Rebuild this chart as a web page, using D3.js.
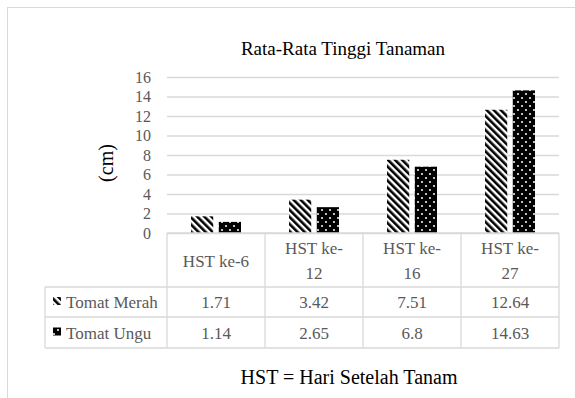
<!DOCTYPE html>
<html>
<head>
<meta charset="utf-8">
<script src="https://cdn.jsdelivr.net/npm/d3@7"></script>
<style>
  body { margin: 0; background: #fff; }
</style>
</head>
<body>
<script>
var categories = ["HST ke-6", "HST ke-12", "HST ke-16", "HST ke-27"];
var seriesNames = ["Tomat Merah", "Tomat Ungu"];
var merah = [1.71, 3.42, 7.51, 12.64];
var ungu = [1.14, 2.65, 6.8, 14.63];
var yTicks = [0, 2, 4, 6, 8, 10, 12, 14, 16];
var valueLabels = [["1.71", "3.42", "7.51", "12.64"], ["1.14", "2.65", "6.8", "14.63"]];

function init() {
    var w = 575;
    var h = 398;
    var grey = "#595959";
    var lineCol = "#d9d9d9";
    var serif = "Liberation Serif";

    var svg = d3.select("body")
                .append("svg")
                .attr("width", w)
                .attr("height", h);

    // patterns
    var defs = svg.append("defs");
    var stripes = defs.append("pattern")
        .attr("id", "stripes")
        .attr("patternUnits", "userSpaceOnUse")
        .attr("width", 5)
        .attr("height", 5)
        .attr("patternTransform", "rotate(-45)");
    stripes.append("rect").attr("width", 5).attr("height", 5).attr("fill", "#fff");
    stripes.append("rect").attr("width", 2.6).attr("height", 5).attr("fill", "#000");

    var dots = defs.append("pattern")
        .attr("id", "dots")
        .attr("patternUnits", "userSpaceOnUse")
        .attr("width", 8)
        .attr("height", 8);
    dots.append("rect").attr("width", 8).attr("height", 8).attr("fill", "#000");
    dots.append("circle").attr("cx", 2).attr("cy", 2).attr("r", 1).attr("fill", "#fff");
    dots.append("circle").attr("cx", 6).attr("cy", 6).attr("r", 1).attr("fill", "#fff");

    var fills = ["url(#stripes)", "url(#dots)"];
    var values = [merah, ungu];

    // chart border
    svg.append("rect")
        .attr("x", 7.5).attr("y", 7.5)
        .attr("width", w + 10).attr("height", h + 10)
        .attr("fill", "none")
        .attr("stroke", lineCol);

    // scales
    var xScale = d3.scaleBand()
        .domain(categories)
        .range([167, 559]);

    var xSub = d3.scaleBand()
        .domain(seriesNames)
        .range([24, 74])
        .paddingInner(0.2);

    var yScale = d3.scaleLinear()
        .domain([0, 16])
        .range([233, 77]);

    // title
    svg.append("text")
        .attr("x", 343)
        .attr("y", 55)
        .attr("text-anchor", "middle")
        .attr("font-family", serif)
        .attr("font-size", 19)
        .attr("fill", "#000")
        .text("Rata-Rata Tinggi Tanaman");

    // y axis with gridlines
    var yAxis = d3.axisLeft(yScale)
        .tickValues(yTicks)
        .tickSize(-(559 - 167))
        .tickPadding(16)
        .tickFormat(d3.format("d"));

    var gy = svg.append("g")
        .attr("transform", "translate(167,0)")
        .call(yAxis);
    gy.select(".domain").remove();
    gy.selectAll("line").attr("stroke", lineCol).attr("stroke-width", 1.3);
    gy.selectAll("text")
        .attr("fill", grey)
        .attr("font-family", serif)
        .attr("font-size", 16);

    svg.append("text")
        .attr("transform", "translate(113,163) rotate(-90)")
        .attr("text-anchor", "middle")
        .attr("font-family", serif)
        .attr("font-size", 20)
        .attr("fill", "#000")
        .text("(cm)");

    // bars
    var groups = svg.selectAll("g.series")
        .data(seriesNames)
        .enter()
        .append("g")
        .attr("class", "series")
        .attr("fill", function (d, i) { return fills[i]; });

    groups.selectAll("rect")
        .data(function (d, i) {
            return values[i].map(function (v, j) { return { s: d, c: categories[j], v: v }; });
        })
        .enter()
        .append("rect")
        .attr("x", function (d) { return xScale(d.c) + xSub(d.s); })
        .attr("y", function (d) { return yScale(d.v); })
        .attr("width", xSub.bandwidth())
        .attr("height", function (d) { return yScale(0) - yScale(d.v); });

    // data table
    var tTop = yScale(0);
    var rowY = [tTop, 287, 317, 348];
    var tLeft = 45;
    var tRight = xScale.range()[1];
    var tbl = svg.append("g")
        .attr("stroke", lineCol)
        .attr("stroke-width", 1.3);

    tbl.append("line").attr("x1", xScale.range()[0]).attr("x2", tRight).attr("y1", tTop).attr("y2", tTop);
    rowY.slice(1).forEach(function (y) {
        tbl.append("line").attr("x1", tLeft).attr("x2", tRight).attr("y1", y).attr("y2", y);
    });
    tbl.append("line").attr("x1", tLeft).attr("x2", tLeft).attr("y1", rowY[1]).attr("y2", rowY[3]);
    categories.forEach(function (c) {
        tbl.append("line").attr("x1", xScale(c)).attr("x2", xScale(c)).attr("y1", tTop).attr("y2", rowY[3]);
    });
    tbl.append("line").attr("x1", tRight).attr("x2", tRight).attr("y1", tTop).attr("y2", rowY[3]);

    // header labels (wrap long ones at the hyphen)
    categories.forEach(function (c) {
        var cx = xScale(c) + xScale.bandwidth() / 2;
        var t = svg.append("text")
            .attr("x", cx)
            .attr("text-anchor", "middle")
            .attr("font-family", serif)
            .attr("font-size", 17)
            .attr("fill", grey)
            .text(c);
        if (c.length > 8) {
            var k = c.indexOf("-") + 1;
            t.text(null);
            t.attr("y", 254);
            t.append("tspan").attr("x", cx).text(c.slice(0, k));
            t.append("tspan").attr("x", cx).attr("dy", 25).text(c.slice(k));
        } else {
            t.attr("y", 267);
        }
    });

    // series rows
    seriesNames.forEach(function (s, i) {
        var cy = (rowY[i + 1] + rowY[i + 2]) / 2;
        svg.append("rect")
            .attr("x", 53).attr("y", cy - 5)
            .attr("width", 8).attr("height", 8)
            .attr("fill", fills[i]);
        svg.append("text")
            .attr("x", 66)
            .attr("y", cy + 6)
            .attr("font-family", serif)
            .attr("font-size", 17)
            .attr("fill", grey)
            .text(s);
        categories.forEach(function (c, j) {
            svg.append("text")
                .attr("x", xScale(c) + xScale.bandwidth() / 2)
                .attr("y", cy + 6)
                .attr("text-anchor", "middle")
                .attr("font-family", serif)
                .attr("font-size", 17)
                .attr("fill", grey)
                .text(valueLabels[i][j]);
        });
    });

    // footnote
    svg.append("text")
        .attr("x", 349)
        .attr("y", 384)
        .attr("text-anchor", "middle")
        .attr("font-family", serif)
        .attr("font-size", 20)
        .attr("fill", "#000")
        .text("HST = Hari Setelah Tanam");
}

window.onload = init;
</script>
</body>
</html>
